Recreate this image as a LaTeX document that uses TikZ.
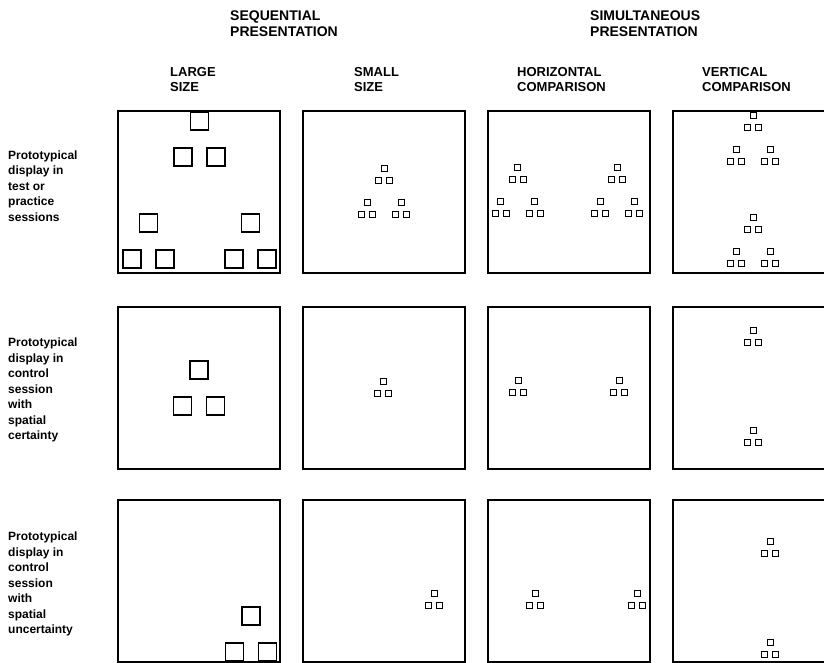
\documentclass[tikz,border=0pt]{standalone}
\usepackage{fontspec}
\setmainfont{Liberation Sans}
\usetikzlibrary{calc}
\tikzset{
  % display frames
  panel/.style={
    draw, line width=1.4pt, minimum width=162pt, minimum height=162pt,
    inner sep=0pt, outer sep=0pt,
  },
  % stimulus squares
  blob/.style={draw},
  largepat/.style={scale=3, line width=1.3pt},
  smallpat/.style={line width=0.9pt},
  % text
  heading/.style={font=\fontsize{14}{16}\selectfont\bfseries, align=left, inner sep=0pt, anchor=west},
  collabel/.style={font=\fontsize{13}{15}\selectfont\bfseries, align=left, inner sep=0pt, anchor=west},
  rowlabel/.style={font=\fontsize{12}{15.5}\selectfont\bfseries, align=left, inner sep=0pt, anchor=west},
  % three squares in a triangle
  trio/.pic={
    \foreach \dx/\dy in {0/-6, -5.5/6, 5.5/6}
      \draw[blob] (\dx-3, \dy-3) rectangle ++(6,6);
  },
  % triangle of three trios
  triad/.pic={
    \pic[transform shape] at (0,-17) {trio};
    \pic[transform shape] at (-17,17) {trio};
    \pic[transform shape] at (17,17) {trio};
  },
}

\begin{document}
\begin{tikzpicture}[x=1pt, y=-1pt]
  \useasboundingbox (0,0) rectangle (824,663);

  % Headings
  \node[heading] (seq) at (230,24) {SEQUENTIAL\\PRESENTATION};
  \node[heading] (sim) at (590,24) {SIMULTANEOUS\\PRESENTATION};

  \node[collabel] (large) at (170,80) {LARGE\\SIZE};
  \node[collabel] (small) at (354,80) {SMALL\\SIZE};
  \node[collabel] (horiz) at (517,80) {HORIZONTAL\\COMPARISON};
  \node[collabel] (vert)  at (702,80) {VERTICAL\\COMPARISON};

  % Row labels
  \node[rowlabel] (test) at (8,186) {Prototypical\\display in\\test or\\practice\\sessions};
  \node[rowlabel] (cert) at (8,390) {Prototypical\\display in\\control\\session\\with\\spatial\\certainty};
  \node[rowlabel] (unc)  at (8,584) {Prototypical\\display in\\control\\session\\with\\spatial\\uncertainty};

  % Panels
  \node[panel] (p11) at (199,192) {};
  \node[panel] (p12) at (384,192) {};
  \node[panel] (p13) at (569,192) {};
  \node[panel] (p14) at (754,192) {};
  \node[panel] (p21) at (199,388) {};
  \node[panel] (p22) at (384,388) {};
  \node[panel] (p23) at (569,388) {};
  \node[panel] (p24) at (754,388) {};
  \node[panel] (p31) at (199,581) {};
  \node[panel] (p32) at (384,581) {};
  \node[panel] (p33) at (569,581) {};
  \node[panel] (p34) at (754,581) {};

  % Test or practice sessions
  \pic[largepat] at ($(p11)+(0.5,-2)$) {triad};
  \pic[smallpat] at ($(p12)+(0,-1)$) {triad};
  \pic[smallpat] at ($(p13)+(-51.5,-2)$) {triad};
  \pic[smallpat] at ($(p13)+(48,-2)$) {triad};
  \pic[smallpat] at ($(p14)+(-1,-54)$) {triad};
  \pic[smallpat] at ($(p14)+(-1,48)$) {triad};

  % Spatial certainty
  \pic[largepat] at (p21) {trio};
  \pic[smallpat] at ($(p22)+(-1,-1)$) {trio};
  \pic[smallpat] at ($(p23)+(-51,-2)$) {trio};
  \pic[smallpat] at ($(p23)+(50,-2)$) {trio};
  \pic[smallpat] at ($(p24)+(-1,-52)$) {trio};
  \pic[smallpat] at ($(p24)+(-1,48)$) {trio};

  % Spatial uncertainty
  \pic[largepat] at ($(p31)+(52,53)$) {trio};
  \pic[smallpat] at ($(p32)+(50,18)$) {trio};
  \pic[smallpat] at ($(p33)+(-34,18)$) {trio};
  \pic[smallpat] at ($(p33)+(68,18)$) {trio};
  \pic[smallpat] at ($(p34)+(16,-34)$) {trio};
  \pic[smallpat] at ($(p34)+(16,67)$) {trio};

\end{tikzpicture}
\end{document}
